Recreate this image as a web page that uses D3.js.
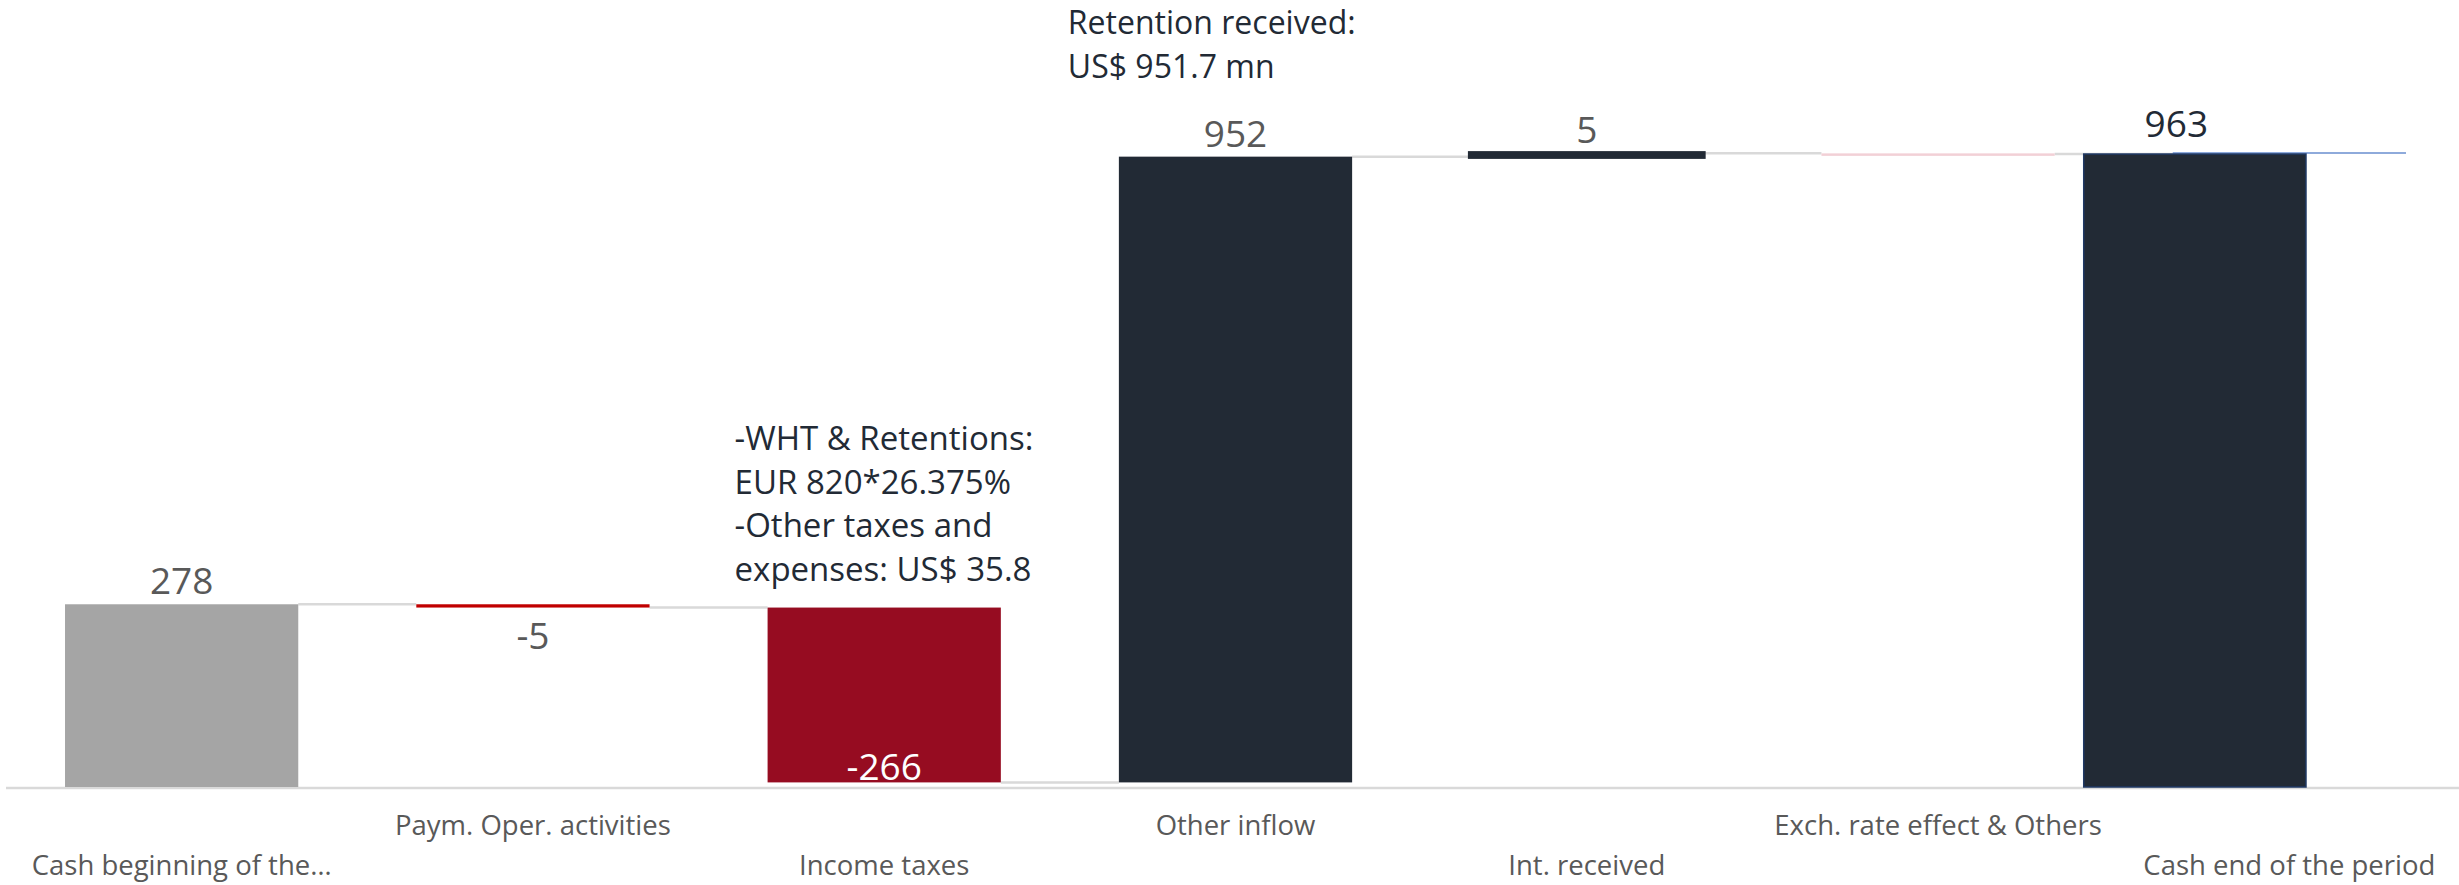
<!DOCTYPE html>
<html>
<head>
  <script src="https://d3js.org/d3.v7.min.js"></script>
  <style>
    body { margin: 0; background: #fff; }
    text { font-family: "Open Sans", sans-serif; }
  </style>
</head>
<body>
<div id="chart"></div>
<script>
  // Cash flow waterfall (US$ mn)
  var categories = ["Cash beginning of the\u2026", "Paym. Oper. activities", "Income taxes",
                    "Other inflow", "Int. received", "Exch. rate effect & Others", "Cash end of the period"];
  var values = [278, -5, -266, 952, 5, -1, 963];
  var isTotal = [true, false, false, false, false, false, true];
  var valueLabels = ["278", "-5", "-266", "952", "5", "", "963"];
  var notesTaxes = ["-WHT & Retentions:", "EUR 820*26.375%", "-Other taxes and", "expenses: US$ 35.8"];
  var notesInflow = ["Retention received:", "US$ 951.7 mn"];

  var W = 2459, H = 885;
  var svg = d3.select("#chart").append("svg").attr("width", W).attr("height", H);

  // Scales
  var x = d3.scaleBand().domain(categories).range([6, 2465]).paddingInner(0.336).paddingOuter(0.168);
  var y = d3.scaleLinear().domain([0, 1000]).range([787, 129.7]);

  // Build running totals
  var run = 0, steps = [];
  values.forEach(function(v, i) {
    var start, end;
    if (isTotal[i]) { start = 0; end = v; run = v; }
    else { start = run; end = run + v; run = end; }
    steps.push({cat: categories[i], v: v, start: start, end: end, total: isTotal[i], label: valueLabels[i]});
  });

  function fill(d, i) {
    if (i === 0) return "#a5a5a5";
    if (i === 1) return "#c00000";
    if (i === 5) return "#f2d0d6";
    if (d.v < 0) return "#960c21";
    return "#222a35";
  }

  // axis line
  svg.append("line").attr("x1", 6).attr("x2", W).attr("y1", y(0) + 1).attr("y2", y(0) + 1)
    .attr("stroke", "#d9d9d9").attr("stroke-width", 2.5);

  // connectors
  for (var i = 0; i < steps.length - 1; i++) {
    svg.append("line")
      .attr("x1", x(steps[i].cat) + x.bandwidth()).attr("x2", x(steps[i + 1].cat))
      .attr("y1", y(steps[i].end)).attr("y2", y(steps[i].end))
      .attr("stroke", "#d9d9d9").attr("stroke-width", 2.5);
  }

  // bars (last category drawn separately)
  svg.selectAll("rect.bar").data(steps.slice(0, 6)).enter().append("rect")
    .attr("class", "bar")
    .attr("x", function(d) { return x(d.cat); })
    .attr("width", x.bandwidth())
    .attr("y", function(d) { return y(Math.max(d.start, d.end)); })
    .attr("height", function(d) { return Math.max(2.5, Math.abs(y(d.start) - y(d.end))); })
    .attr("fill", fill)
    .attr("stroke", function(d, i) { return i === 4 ? "#222a35" : "none"; })
    .attr("stroke-width", 4.5);

  // end of period: thin marker on the band plus the offset total column
  var last = steps[6];
  svg.append("line")
    .attr("x1", x(last.cat)).attr("x2", x(last.cat) + x.bandwidth())
    .attr("y1", y(last.end) - 1).attr("y2", y(last.end) - 1)
    .attr("stroke", "#8eaadb").attr("stroke-width", 2);
  svg.append("rect")
    .attr("x", x(last.cat) - 89).attr("width", x.bandwidth() - 11)
    .attr("y", y(last.end)).attr("height", y(0) - y(last.end))
    .attr("fill", "#222a35").attr("stroke", "#1f3864").attr("stroke-width", 1.5);

  // value labels
  var cx = function(d) { return x(d.cat) + x.bandwidth() / 2; };
  svg.selectAll("text.val").data(steps).enter().append("text")
    .attr("class", "val")
    .attr("text-anchor", "middle")
    .attr("font-size", 37)
    .attr("x", function(d, i) { return i === 6 ? cx(d) - 113 : cx(d); })
    .attr("y", function(d, i) {
      if (i === 1) return y(d.end) + 41;
      if (i === 2) return y(0) - 7;
      if (i === 6) return y(d.end) - 17;
      return y(Math.max(d.start, d.end)) - 10;
    })
    .attr("fill", function(d, i) { return i === 2 ? "#ffffff" : (i === 6 ? "#222a35" : "#595959"); })
    .text(function(d) { return d.label; });

  // category labels, staggered on two rows
  svg.selectAll("text.cat").data(categories).enter().append("text")
    .attr("class", "cat")
    .attr("text-anchor", "middle")
    .attr("font-size", 27.5)
    .attr("fill", "#595959")
    .attr("x", function(d) { return x(d) + x.bandwidth() / 2; })
    .attr("y", function(d, i) { return i % 2 === 0 ? 875 : 835; })
    .text(function(d) { return d; });

  // annotations
  var n1 = svg.append("text").attr("font-size", 33).attr("fill", "#222a35");
  n1.selectAll("tspan").data(notesTaxes).enter().append("tspan")
    .attr("x", x("Income taxes") - 33)
    .attr("y", function(d, i) { return 450 + i * 43.5; })
    .text(function(d) { return d; });

  var n2 = svg.append("text").attr("font-size", 32).attr("fill", "#222a35");
  n2.selectAll("tspan").data(notesInflow).enter().append("tspan")
    .attr("x", x("Other inflow") - 51)
    .attr("y", function(d, i) { return 34 + i * 43.5; })
    .text(function(d) { return d; });
</script>
</body>
</html>
